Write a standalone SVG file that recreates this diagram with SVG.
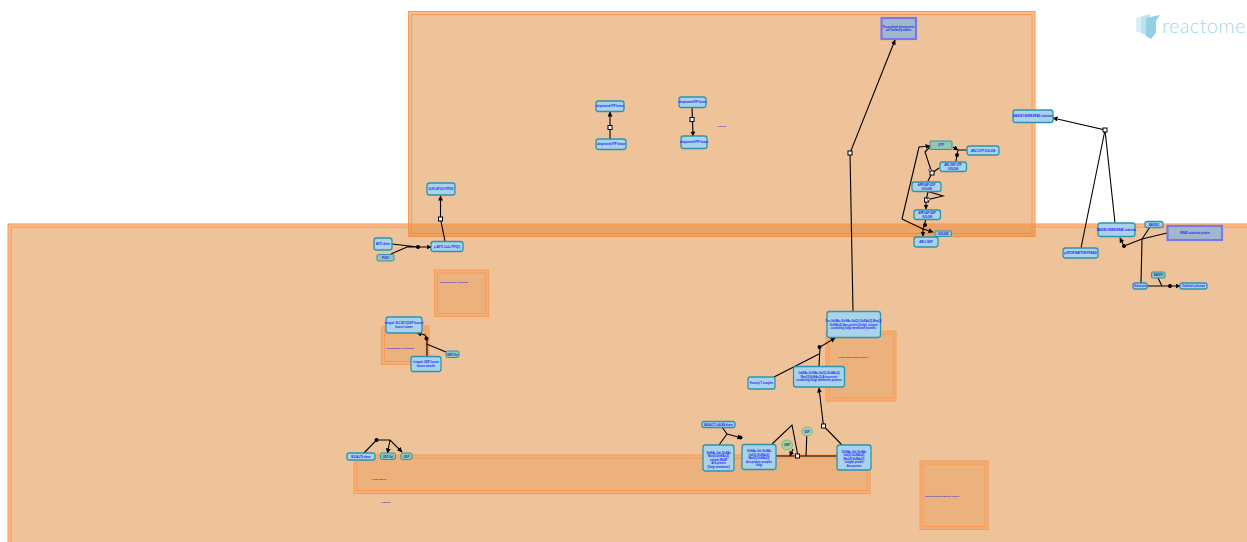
<svg xmlns="http://www.w3.org/2000/svg" width="1247" height="542" viewBox="0 0 1247 542">
<style>
.c{fill:#df8735;fill-opacity:.5;stroke:#ff9a55;stroke-width:1.1}
.ci{fill:none;stroke:#ff9a55;stroke-width:1.1}
.s{fill:#e7a160;fill-opacity:.5;stroke:#ff9a55;stroke-width:1.1}
.p{fill:#a9d3e8;stroke:#2f93ad;stroke-width:1.3}
.m{fill:#8fc7b0;stroke:#2f93ad;stroke-width:1}
.o{fill:#a4d48c;stroke:#63b98f;stroke-width:.8}
.b{fill:#a1b8cc;stroke:#7878e6;stroke-width:2.2}
text{font-family:"Liberation Sans",Arial,sans-serif;fill:#1a1aff;text-anchor:middle;font-weight:bold}
.t{font-size:2.6px}
.l{font-size:2.5px;fill:#3a2fd0}
.e{fill:none;stroke:#000;stroke-width:1.1}
.rb{fill:#fff;stroke:#000;stroke-width:1}
.rc{fill:#fff;stroke:#000;stroke-width:.6}
.dot{fill:#000}
</style>
<defs>
<marker id="a" markerWidth="6" markerHeight="6" refX="4.500" refY="2.500" orient="auto" markerUnits="userSpaceOnUse"><path d="M0 0L5 2.500L0 5Z" fill="#000"/></marker>
</defs>
<g id="compartments">
<rect class="c" x="408.500" y="11.500" width="626.500" height="225"/>
<rect class="ci" x="411.500" y="14.500" width="620.500" height="219"/>
<rect class="c" x="8" y="224" width="1260" height="340"/>
<rect class="ci" x="11" y="227" width="1260" height="340"/>
<rect class="s" x="434.500" y="270" width="54" height="46.500"/><rect class="ci" x="437.500" y="273" width="48" height="40.500"/>
<rect class="s" x="381.500" y="326" width="47.500" height="38.500"/><rect class="ci" x="384.500" y="329" width="41.500" height="32.500"/>
<rect class="s" x="354" y="455" width="516" height="38.500"/><rect class="ci" x="357" y="458" width="510" height="32.500"/>
<rect class="s" x="826" y="331" width="70" height="70"/><rect class="ci" x="829" y="334" width="64" height="64"/>
<rect class="s" x="920" y="461" width="68" height="68.500"/><rect class="ci" x="923" y="464" width="62" height="62.500"/>
<text class="l" x="454" y="283.300">Endoplasmic reticulum</text>
<text class="l" x="400" y="348.500">Endoplasmic reticulum</text>
<text class="l" x="379" y="479.500">Golgi lumen</text>
<text class="l" x="385.500" y="502.500">plasma</text>
<text class="l" x="853" y="358">Golgi-associated vesicle</text>
<text class="l" x="942" y="497" style="font-size:2.200px">clathrin-coated endocytic vesicle</text>
<text class="l" x="721.500" y="127">cytosol</text>
</g>
<g id="logo">
<path d="M1136 18l9-3v20l-9-4Z" fill="#d9eef5"/>
<path d="M1141 17l9-3v22l-9-3Z" fill="#bde2ee"/>
<path d="M1146 18l9-2 5-1-4 6v12l-5 6-5-3Z" fill="#93d0e3"/>
<text x="1162" y="33" style="font-size:20px;font-family:'Lato','Liberation Sans',sans-serif;font-weight:300;fill:#a3d8e8;text-anchor:start;letter-spacing:.4px">reactome</text>
</g>
<g id="connectors">
<path class="e" d="M392 244L418 247M391 254L407 247H431" marker-end="url(#a)"/>
<path class="e" d="M445 241L440.500 219V196" marker-end="url(#a)"/>
<path class="e" d="M427 356V340L425 335L417 333" marker-end="url(#a)"/>
<path class="e" d="M446 352L426.500 344"/>
<path class="e" d="M364 453L376.500 440H390L402 452" marker-end="url(#a)"/>
<path class="e" d="M390 440L387.500 453" marker-end="url(#a)"/>
<path class="e" d="M722 427L727 434L719 445M727 434L742 438" marker-end="url(#a)"/>
<path class="e" d="M772 444L792 425L798 456M776 456H837M793 449L790 456" marker-end="url(#a)"/>
<path class="e" d="M806 456L807 430" marker-end="url(#a)"/>
<path class="e" d="M842 445L823.500 426L819 388" marker-end="url(#a)"/>
<path class="e" d="M774 377L819 354M819 366L820 347L835 338" marker-end="url(#a)"/>
<path class="e" d="M853 311L850 153L895 40" marker-end="url(#a)"/>
<path class="e" d="M610 139V112" marker-end="url(#a)"/>
<path class="e" d="M692 107L693 136" marker-end="url(#a)"/>
<path class="e" d="M967 150H958L956 161M953 147L958 150" marker-end="url(#a)"/>
<path class="e" d="M939 168L932 173L925 152L930 147M932 173L928 181"/>
<path class="e" d="M928 192L926 200L943 196L928 191.500M926 200L926 209" marker-end="url(#a)"/>
<path class="e" d="M902 219L919 147L930 146" marker-end="url(#a)"/>
<path class="e" d="M902 219L923 229L933 232" marker-end="url(#a)"/>
<path class="e" d="M926 219L923 229L923 236" marker-end="url(#a)"/>
<path class="e" d="M1081 248L1105 130L1053 118" marker-end="url(#a)"/>
<path class="e" d="M1105 130L1115 223"/>
<path class="e" d="M1141 283L1142 239"/>
<path class="e" d="M1167 233L1142 239L1124 246L1120 238" marker-end="url(#a)"/>
<path class="e" d="M1150 227L1142 239"/>
<path class="e" d="M1147 286H1180" marker-end="url(#a)"/>
<path class="e" d="M1158 278L1162 286"/>
<circle class="dot" cx="418" cy="247" r="2"/><circle class="dot" cx="426.500" cy="338.500" r="2"/><circle class="dot" cx="376.500" cy="440" r="2"/><circle class="dot" cx="740.500" cy="437.500" r="2"/><circle class="dot" cx="819.500" cy="347" r="2"/><circle class="dot" cx="957" cy="155" r="2"/><circle class="dot" cx="925" cy="225" r="2"/><circle class="dot" cx="1124" cy="246" r="2"/><circle class="dot" cx="1170" cy="286" r="2"/>
<rect class="rb" x="438.500" y="217" width="4" height="4"/><rect class="rb" x="608" y="125.500" width="4" height="4"/><rect class="rb" x="690" y="117.500" width="4" height="4"/><rect class="rb" x="795.500" y="454" width="4" height="4"/><rect class="rb" x="821.500" y="424" width="4" height="4"/><rect class="rb" x="848" y="151" width="4" height="4"/><rect class="rb" x="930" y="171" width="4" height="4"/><rect class="rb" x="924.500" y="198" width="4" height="4"/><rect class="rb" x="1103" y="128" width="4" height="4"/>
<circle class="rc" cx="930" cy="170" r="1.300"/><circle class="rc" cx="928.500" cy="199.500" r="1.300"/>
</g>
<g id="n1"><rect class="p" x="427" y="183" width="28" height="12" rx="2.500"/><text class="t" x="441" y="190">ULK1:ATG13:FIP200</text></g>
<g id="n2"><rect class="p" x="374" y="238" width="18" height="12" rx="2.500"/><text class="t" x="383" y="245">AKT1 dimer</text></g>
<g id="n3"><rect class="m" x="377" y="254.500" width="17" height="6.500" rx="1.500"/><text class="t" x="385.500" y="259">PI3K1</text></g>
<g id="n4"><rect class="p" x="431" y="241.500" width="32" height="10" rx="2.500"/><text class="t" x="447" y="247.500">p-AKT1:Ca2+:PIP3(3)</text></g>
<g id="n5"><rect class="p" x="386" y="317" width="36" height="16" rx="2.500"/><text class="t" x="404" y="324">integral: SLC35C1(GDP-fucose)</text><text class="t" x="404" y="328">fucose isomer</text></g>
<g id="n6"><rect class="p" x="411" y="356.500" width="30" height="15" rx="2.500"/><text class="t" x="426" y="363">integral: GDP-fucose</text><text class="t" x="426" y="367">fucose transfer</text></g>
<g id="n7"><rect class="m" x="446" y="351" width="13" height="6.500" rx="1.500"/><text class="t" x="452.500" y="355.500">GDP-Fuc</text></g>
<g id="n8"><rect class="p" x="347" y="453" width="28" height="7" rx="2"/><text class="t" x="361" y="457.500">B3GALT6 dimer</text></g>
<g id="n9"><rect class="m" x="380.500" y="453" width="15" height="6.500" rx="1.500"/><text class="t" x="388" y="457.500">UDP-Gal</text></g>
<g id="n10"><rect class="m" x="401" y="453" width="11" height="6.500" rx="1.500"/><text class="t" x="406.500" y="457.500">UDP</text></g>
<g id="n11"><rect class="p" x="702" y="421.500" width="33" height="6" rx="2"/><text class="t" x="718.500" y="425.500">B4GALT1:LALBA dimer</text></g>
<g id="n12"><rect class="p" x="703" y="445" width="31" height="26" rx="2.500"/><text class="t" x="718.500" y="453.500">GlcNAc-Gal-GlcNAc</text><text class="t" x="718.500" y="457">Man(3)GlcNAc(2)</text><text class="t" x="718.500" y="460.500">integral:MGAT</text><text class="t" x="718.500" y="464">Asn-protein</text><text class="t" x="718.500" y="467.500">(Golgi membrane)</text></g>
<g id="n13"><rect class="p" x="742" y="444.500" width="34" height="25" rx="2.500"/><text class="t" x="759" y="452">GlcNAc-Gal-GlcNAc</text><text class="t" x="759" y="455.500">Gal(2)-GlcNAc(2)</text><text class="t" x="759" y="459">Man(3)GlcNAc(2)</text><text class="t" x="759" y="462.500">Asn-protein complex</text><text class="t" x="759" y="466">Golgi</text></g>
<g id="n14"><ellipse class="o" cx="787" cy="445" rx="5.500" ry="5"/><text class="t" x="787" y="446">UMP</text></g>
<g id="n15"><ellipse class="o" cx="807" cy="431.500" rx="5.500" ry="4.500"/><text class="t" x="807" y="432.500">UDP</text></g>
<g id="n16"><rect class="p" x="837" y="445" width="34" height="25" rx="2.500"/><text class="t" x="854" y="452.500">GlcNAc-Gal-GlcNAc</text><text class="t" x="854" y="456">Gal(2)-GlcNAc(2)</text><text class="t" x="854" y="459.500">Man(3)GlcNAc(2)</text><text class="t" x="854" y="463">integral protein</text><text class="t" x="854" y="466.500">Asn-protein</text></g>
<g id="n17"><rect class="p" x="793.500" y="366.500" width="51" height="20.500" rx="2.500"/><text class="t" x="819" y="374">GalNAc-GlcNAc-Gal(2)-GlcNAc(2)</text><text class="t" x="819" y="377.500">Man(3)GlcNAc(2)-Asn-protein</text><text class="t" x="819" y="381">containing Golgi membrane proteins</text></g>
<g id="n18"><rect class="p" x="748" y="377" width="27" height="12" rx="2"/><text class="t" x="761.500" y="384">Fucosyl-T complex</text></g>
<g id="n19"><rect class="p" x="827" y="311.500" width="53.500" height="26" rx="2.500"/><text class="t" x="853.500" y="322">Fuc-GalNAc-GlcNAc-Gal(2)-GlcNAc(2)-Man(3)</text><text class="t" x="853.500" y="325.500">GlcNAc(2)-Asn-protein (Golgi), integral</text><text class="t" x="853.500" y="329">containing Golgi membrane proteins</text></g>
<g id="n20"><rect class="b" x="881.500" y="18" width="34.500" height="21"/><text class="t" x="898.500" y="27.500">Fucosylated glycoprotein</text><text class="t" x="898.500" y="31">cell surface proteins</text></g>
<g id="n21"><rect class="p" x="596" y="101" width="28" height="10.500" rx="2.500"/><text class="t" x="610" y="107">ubiquinated-PIP kinase</text></g>
<g id="n22"><rect class="p" x="596" y="139" width="30" height="10.500" rx="2.500"/><text class="t" x="611" y="145">ubiquinated-PIP kinase</text></g>
<g id="n23"><rect class="p" x="679" y="97" width="27" height="10.500" rx="2.500"/><text class="t" x="692.500" y="103">ubiquinated-PIP kinase</text></g>
<g id="n24"><rect class="p" x="681" y="136" width="26" height="12.500" rx="2.500"/><text class="t" x="694" y="143">ubiquinated-PIP kinase</text></g>
<g id="n25"><rect class="m" x="930" y="141" width="22" height="8.500" rx="1"/><text class="t" x="941" y="146">GTP</text></g>
<g id="n26"><rect class="p" x="967" y="146" width="32" height="9" rx="2.500"/><text class="t" x="983" y="151.500">ARL1:GTP:GOLGIN</text></g>
<g id="n27"><rect class="p" x="940" y="162" width="26.500" height="9.500" rx="2.500"/><text class="t" x="953" y="166">ARL:GEF:GTP</text><text class="t" x="953" y="169.500">GOLGIN</text></g>
<g id="n28"><rect class="p" x="912" y="182" width="29" height="9.500" rx="2.500"/><text class="t" x="926.500" y="186">ARFGAP:GDP</text><text class="t" x="926.500" y="189.500">GOLGIN</text></g>
<g id="n29"><rect class="p" x="914" y="210" width="26.500" height="9.500" rx="2.500"/><text class="t" x="927" y="214">ARFGAP:GDP</text><text class="t" x="927" y="217.500">GOLGIN</text></g>
<g id="n30"><rect class="m" x="935" y="231" width="16.500" height="5.500" rx="1"/><text class="t" x="943" y="235">GOLGIN</text></g>
<g id="n31"><rect class="p" x="914" y="237" width="24" height="10" rx="2.500"/><text class="t" x="926" y="243">ARL1:GDP</text></g>
<g id="n32"><rect class="p" x="1013" y="110" width="40" height="12.500" rx="2.500"/><text class="t" x="1033" y="117">MAN1B1:EDEM:ERAD substrate</text></g>
<g id="n33"><rect class="p" x="1063" y="248" width="35" height="10" rx="2.500"/><text class="t" x="1080.500" y="254">p-MTOR:RAPTOR:PRAS40</text></g>
<g id="n34"><rect class="p" x="1098" y="223" width="37" height="13.500" rx="2.500"/><text class="t" x="1116.500" y="231">MAN1B1:EDEM:ERAD substrate</text></g>
<g id="n35"><rect class="p" x="1145" y="221.500" width="18" height="6" rx="2"/><text class="t" x="1154" y="225.500">MAN1B1</text></g>
<g id="n36"><rect class="b" x="1167.500" y="226" width="54.500" height="14"/><text class="t" x="1195" y="234">ERAD substrate protein</text></g>
<g id="n37"><rect class="m" x="1151.500" y="272" width="13.500" height="6" rx="1"/><text class="t" x="1158" y="276">NADPH</text></g>
<g id="n38"><rect class="p" x="1133" y="283" width="14" height="6" rx="2"/><text class="t" x="1140" y="287">Substrate</text></g>
<g id="n39"><rect class="p" x="1180" y="283" width="27" height="6" rx="2"/><text class="t" x="1193.500" y="287">Oxidized substrate</text></g>
</svg>
